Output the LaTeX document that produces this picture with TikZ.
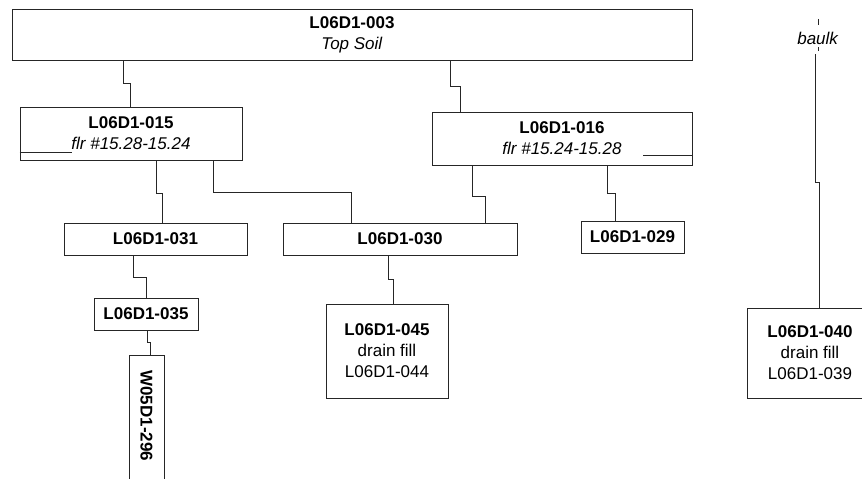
\documentclass[tikz,border=0pt]{standalone}
\usepackage{fontspec}
\setmainfont{Liberation Sans}
\begin{document}
\begin{tikzpicture}[x=1pt,y=-1pt,
  box/.style={draw=black!85,line width=0.8pt,rectangle,inner sep=0pt,align=center,font=\fontsize{17}{21}\selectfont},
  link/.style={draw=black!85,line width=0.8pt},
  plain/.style={inner sep=0pt,font=\fontsize{17}{21}\selectfont}]
\useasboundingbox (0,0) rectangle (862,479);
\clip (0,0) rectangle (862,479);
% boxes
\node[box,minimum width=680,minimum height=51] (n003) at (352,34.5) {\textbf{L06D1-003}\\\textit{Top Soil}};
\node[box,minimum width=222,minimum height=53] (n015) at (131,133.5) {\textbf{L06D1-015}\\\textit{flr \#15.28-15.24}};
\node[box,minimum width=260,minimum height=53] (n016) at (562,138.5) {\textbf{L06D1-016}\\\textit{flr \#15.24-15.28}};
\node[box,minimum width=183,minimum height=32] (n031) at (155.5,239) {\textbf{L06D1-031}};
\node[box,minimum width=234,minimum height=32] (n030) at (400,239) {\textbf{L06D1-030}};
\node[box,minimum width=103,minimum height=32] (n029) at (632.5,237) {\textbf{L06D1-029}};
\node[box,minimum width=104,minimum height=32] (n035) at (146,314) {\textbf{L06D1-035}};
\node[box,minimum width=122,minimum height=94] (n045) at (387,351) {\textbf{L06D1-045}\\drain fill\\L06D1-044};
\node[box,minimum width=126,minimum height=90] (n040) at (810,353) {\textbf{L06D1-040}\\drain fill\\L06D1-039};
\node[box,rotate=-90,anchor=west,minimum height=35,text width=110,inner xsep=15,align=left] (n296) at (146.5,355) {\textbf{W05D1-296}};
\node[plain,minimum height=32] (nb) at (818,38) {\textit{baulk}};
% baulk ticks
\draw[link] ([yshift=3pt]nb.north) -- ([yshift=-3pt]nb.north);
\draw[link] ([yshift=7pt]nb.south) -- ([yshift=3pt]nb.south);
% flr lines
\draw[link] (n015.west |- 0,152) -- (72,152);
\draw[link] (n016.east |- 0,155) -- (643,155);
% connectors
\draw[link] (n003.south -| 123,0) -- (123,83) -- (130,83) -- (n015.north -| 130,0);
\draw[link] (n003.south -| 450,0) -- (450,86) -- (460,86) -- (n016.north -| 460,0);
\draw[link] (n015.south -| 156,0) -- (156,193) -- (162,193) -- (n031.north -| 162,0);
\draw[link] (n015.south -| 213,0) -- (213,192) -- (351,192) -- (n030.north -| 351,0);
\draw[link] (n016.south -| 472,0) -- (472,196) -- (485,196) -- (n030.north -| 485,0);
\draw[link] (n016.south -| 607,0) -- (607,193) -- (615,193) -- (n029.north -| 615,0);
\draw[link] (n031.south -| 133,0) -- (133,277) -- (146,277) -- (n035.north -| 146,0);
\draw[link] (n035.south -| 147,0) -- (147,342) -- (150,342) -- (n296.west -| 150,0);
\draw[link] (n030.south -| 388,0) -- (388,279) -- (393,279) -- (n045.north -| 393,0);
\draw[link] (nb.south -| 815,0) -- (815,182) -- (819,182) -- (n040.north -| 819,0);
\end{tikzpicture}
\end{document}
